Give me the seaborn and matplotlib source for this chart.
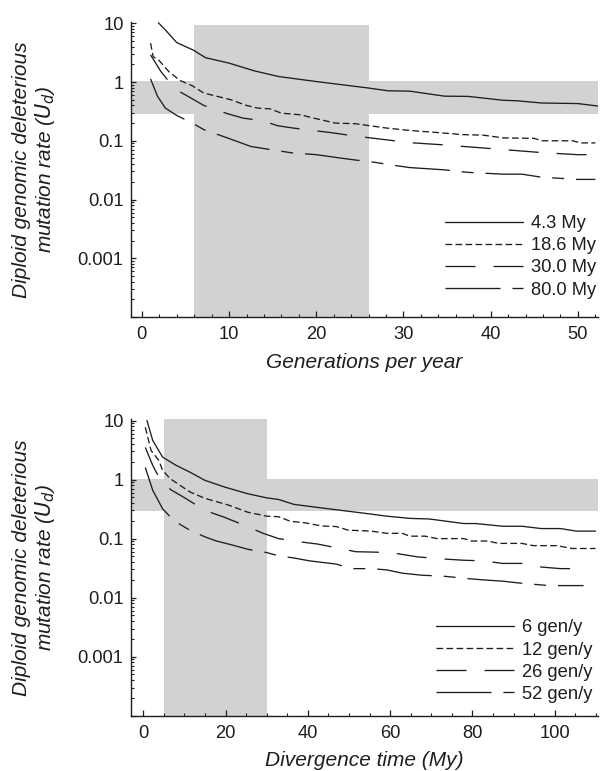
import matplotlib
matplotlib.use("Agg")
import matplotlib.pyplot as plt
import seaborn as sns
import numpy as np
from matplotlib.ticker import FixedLocator, FixedFormatter, MultipleLocator, NullFormatter

# ---------------- data ----------------
# Top panel: U_d vs generations per year, for divergence times
top_labels = ["4.3 My", "18.6 My", "30.0 My", "80.0 My"]
my43_x = [1.9, 2.7, 4.0, 5.9, 7.3, 10, 12.9, 15.7, 20, 26, 28.2, 30.7, 34.7, 37.4, 41.4, 43, 45.8, 50, 52.3]
my43_y = [10.2, 7.7, 4.7, 3.5, 2.6, 2.1, 1.55, 1.24, 1.02, 0.79, 0.71, 0.70, 0.575, 0.57, 0.49, 0.48, 0.44, 0.43, 0.39]
my186_x = [1.0, 1.3, 1.9, 3.1, 4.4, 5.8, 7.1, 10.2, 12, 13.3, 14.7, 16, 18.2, 19.6, 22.2, 24.5, 26.2, 28, 30.7,
           33.4, 36.9, 39.1, 41.4, 45, 45.8, 49.4, 50.3, 52]
my186_y = [4.6, 2.7, 2.4, 1.5, 1.06, 0.86, 0.65, 0.50, 0.40, 0.36, 0.35, 0.295, 0.277, 0.245, 0.20, 0.195, 0.18,
           0.165, 0.15, 0.14, 0.127, 0.125, 0.112, 0.11, 0.10, 0.10, 0.092, 0.092]
my30_x = [1, 2.2, 3.8, 5.3, 7.1, 9.8, 11.6, 13.8, 15.6, 17.3, 19.6, 21.8, 24, 26.2, 28.5, 30.7, 34.7, 37.4,
          41.4, 45.8, 50, 52]
my30_y = [2.9, 1.5, 0.76, 0.57, 0.40, 0.29, 0.243, 0.22, 0.18, 0.165, 0.15, 0.137, 0.123, 0.112, 0.102, 0.093,
          0.085, 0.079, 0.071, 0.063, 0.058, 0.058]
my80_x = [1, 1.8, 2.7, 4.0, 5.8, 7.1, 9.8, 12.5, 14.7, 17.3, 20, 22.7, 24.5, 26.7, 28.5, 30.7, 34.7, 37.4,
          41.4, 43.6, 45.8, 50, 52]
my80_y = [1.13, 0.57, 0.36, 0.27, 0.20, 0.155, 0.112, 0.08, 0.071, 0.062, 0.058, 0.051, 0.047, 0.043, 0.039,
          0.035, 0.032, 0.029, 0.027, 0.027, 0.024, 0.022, 0.022]

# Bottom panel: U_d vs divergence time, for generations per year
bot_labels = ["6 gen/y", "12 gen/y", "26 gen/y", "52 gen/y"]
g6_x = [0.9, 2.3, 4.7, 8, 11.3, 15, 19.7, 25.4, 30, 32.9, 36.6, 45, 54.5, 59.2, 64.8, 69.5, 77.9, 80.8, 87.3,
        92, 96.7, 101.4, 105.2, 109.9]
g6_y = [10, 4.6, 2.4, 1.74, 1.34, 0.97, 0.75, 0.575, 0.49, 0.46, 0.38, 0.32, 0.265, 0.24, 0.22, 0.215, 0.18,
        0.18, 0.162, 0.162, 0.148, 0.148, 0.134, 0.134]
g12_x = [0.5, 1.9, 3.8, 4.7, 6.6, 11.3, 15, 20.7, 25.4, 30, 32.9, 35.7, 39.4, 43.2, 46.9, 49.8, 55.4, 59.2,
         62.9, 64.8, 68.5, 71.4, 77.9, 79.8, 83.6, 86.4, 92, 94.8, 100.5, 104.2, 109.9]
g12_y = [7.7, 3.1, 2.1, 1.43, 1.03, 0.62, 0.48, 0.37, 0.28, 0.24, 0.235, 0.197, 0.185, 0.164, 0.16, 0.139,
         0.134, 0.123, 0.123, 0.11, 0.11, 0.10, 0.10, 0.091, 0.091, 0.083, 0.083, 0.076, 0.076, 0.068, 0.068]
g26_x = [0.5, 2.3, 3.8, 6.6, 10.3, 15, 19.7, 24.4, 29.1, 32.9, 37.6, 42.3, 47.9, 51.6, 56.3, 60.1, 66.7, 73.2,
         77.9, 82.6, 87.3, 92, 96.7, 101.4, 107]
g26_y = [3.5, 1.74, 1.1, 0.68, 0.48, 0.30, 0.23, 0.17, 0.123, 0.10, 0.089, 0.081, 0.068, 0.060, 0.059, 0.058,
         0.049, 0.045, 0.043, 0.042, 0.038, 0.038, 0.033, 0.031, 0.031]
g52_x = [0.5, 2.3, 4.7, 7.5, 11.3, 15, 17.8, 21.6, 25.4, 30, 32.9, 36.6, 40.4, 46.9, 50.7, 55.4, 59.2, 62.9,
         67.6, 73.2, 78.9, 82.6, 87.3, 92, 98.6, 107]
g52_y = [1.6, 0.66, 0.32, 0.20, 0.139, 0.107, 0.091, 0.078, 0.066, 0.058, 0.051, 0.047, 0.042, 0.037, 0.031,
         0.031, 0.0295, 0.026, 0.024, 0.023, 0.021, 0.020, 0.019, 0.0175, 0.016, 0.016]

# shaded regions
top_vspan = (6, 26, 9.3)      # x0, x1, top
bot_vspan = (5, 30, 10.5)
hband = (0.29, 1.04)

ytick_vals = [1e-4, 1e-3, 1e-2, 1e-1, 1, 10]
ytick_labels = ["", "0.001", "0.01", "0.1", "1", "10"]

# ---------------- style ----------------
sns.set_style("ticks")
plt.rcParams["font.family"] = ["Liberation Sans", "DejaVu Sans"]
plt.rcParams["lines.scale_dashes"] = False

INK = "#1e1e1e"
SHADE = "#d1d2d4"
LW = 0.95
styles = ["-", (0, (4.8, 2.4)), (0, (21.6, 13.0)), (0, (39.6, 8.6, 8.6, 8.6))]

fig = plt.figure(figsize=(6.06, 7.71), dpi=100)
ax1 = fig.add_axes([130.5 / 606, 1 - 317 / 771, (598 - 130.5) / 606, (317 - 21.7) / 771])
ax2 = fig.add_axes([130.5 / 606, 1 - 715.7 / 771, (598 - 130.5) / 606, (715.7 - 419.3) / 771])


def style_axis(ax, xlim, ylim_top, xmajor, xminor):
    ax.set_yscale("log")
    ax.set_xlim(*xlim)
    ax.set_ylim(1e-4, ylim_top)
    for s in ["top", "right"]:
        ax.spines[s].set_visible(False)
    for s in ["left", "bottom"]:
        ax.spines[s].set_linewidth(1.0)
        ax.spines[s].set_color(INK)
    ax.yaxis.set_major_locator(FixedLocator(ytick_vals))
    ax.yaxis.set_major_formatter(FixedFormatter(ytick_labels))
    minors = [m * 10.0 ** e for e in range(-4, 1) for m in range(2, 10)]
    ax.yaxis.set_minor_locator(FixedLocator(minors))
    ax.yaxis.set_minor_formatter(NullFormatter())
    ax.xaxis.set_major_locator(MultipleLocator(xmajor))
    ax.xaxis.set_minor_locator(MultipleLocator(xminor))
    ax.tick_params(which="major", direction="in", length=4.5, width=0.9, color=INK,
                   labelsize=13.2, labelcolor=INK, pad=5)
    ax.tick_params(axis="x", which="major", pad=6.5)
    ax.tick_params(which="minor", direction="in", length=2.2, width=0.8, color=INK)
    ax.tick_params(axis="y", which="major", length=3.5)
    ax.tick_params(axis="y", which="minor", length=2.0)


def draw(ax, xs, ys, labels, vspan, legend_anchor):
    ax.fill_between([vspan[0], vspan[1]], 1e-4, vspan[2], color=SHADE, lw=0, zorder=0)
    ax.axhspan(hband[0], hband[1], color=SHADE, lw=0, zorder=0)
    handles = []
    for x, y, ls in zip(xs, ys, styles):
        sns.lineplot(x=x, y=y, ax=ax, color=INK, linewidth=LW, linestyle=ls, zorder=3)
        handles.append(ax.lines[-1])
    ax.legend(handles, labels, loc="upper left", bbox_to_anchor=legend_anchor, frameon=False,
              fontsize=13.2, handlelength=4.25, handletextpad=0.45, labelspacing=0.28,
              borderpad=0, borderaxespad=0, labelcolor=INK)


draw(ax1, [my43_x, my186_x, my30_x, my80_x], [my43_y, my186_y, my30_y, my80_y], top_labels,
     top_vspan, (0.673, 0.345))
draw(ax2, [g6_x, g12_x, g26_x, g52_x], [g6_y, g12_y, g26_y, g52_y], bot_labels,
     bot_vspan, (0.654, 0.325))

style_axis(ax1, (-1.3, 52.3), 10.65, 10, 2)
style_axis(ax2, (-3.1, 110.5), 10.5, 20, 5)

ax1.set_xlabel("Generations per year", fontsize=15, style="italic", color=INK, labelpad=7)
ax2.set_xlabel("Divergence time (My)", fontsize=15, style="italic", color=INK, labelpad=7)
ax1.set_ylabel("")
ax2.set_ylabel("")

ylab = "Diploid genomic deleterious\nmutation rate ($\\mathit{U_d}$)"
for ax in (ax1, ax2):
    pos = ax.get_position()
    fig.text(34.5 / 606, pos.y0 + pos.height / 2, ylab, rotation=90, ha="center", va="center",
             multialignment="center", fontsize=15, style="italic", color=INK, linespacing=1.15)

fig.savefig("out.png", dpi=100)
